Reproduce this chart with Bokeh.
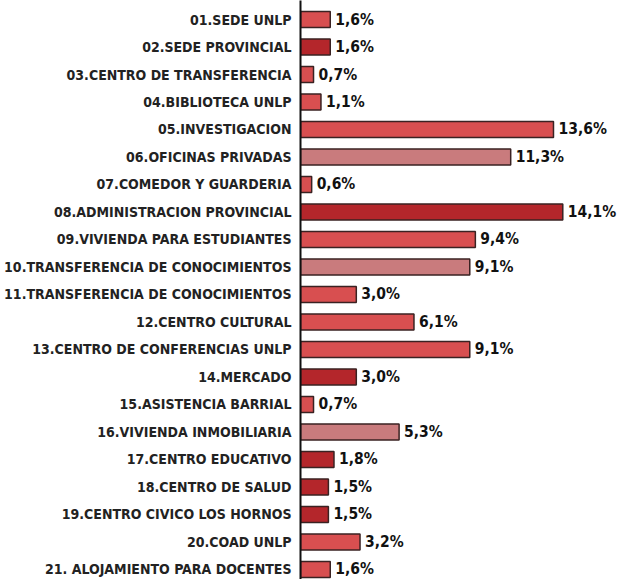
from bokeh.plotting import figure
from bokeh.models import Range1d, FixedTicker, ColumnDataSource
from bokeh.core.properties import value
from bokeh.embed import file_html
from bokeh.resources import INLINE

categories = [
    "01.SEDE UNLP", "02.SEDE PROVINCIAL", "03.CENTRO DE TRANSFERENCIA",
    "04.BIBLIOTECA UNLP", "05.INVESTIGACION", "06.OFICINAS PRIVADAS",
    "07.COMEDOR Y GUARDERIA", "08.ADMINISTRACION PROVINCIAL",
    "09.VIVIENDA PARA ESTUDIANTES", "10.TRANSFERENCIA DE CONOCIMIENTOS",
    "11.TRANSFERENCIA DE CONOCIMIENTOS", "12.CENTRO CULTURAL",
    "13.CENTRO DE CONFERENCIAS UNLP", "14.MERCADO", "15.ASISTENCIA BARRIAL",
    "16.VIVIENDA INMOBILIARIA", "17.CENTRO EDUCATIVO", "18.CENTRO DE SALUD",
    "19.CENTRO CIVICO LOS HORNOS", "20.COAD UNLP", "21. ALOJAMIENTO PARA DOCENTES",
]
values = [1.6, 1.6, 0.7, 1.1, 13.6, 11.3, 0.6, 14.1, 9.4, 9.1, 3.0, 6.1,
          9.1, 3.0, 0.7, 5.3, 1.8, 1.5, 1.5, 3.2, 1.6]
MED, DARK, PINK = "#d84f50", "#b4262b", "#c97b7d"
colors = [MED, DARK, MED, MED, MED, PINK, MED, DARK, MED, PINK, MED, MED,
          MED, DARK, MED, PINK, DARK, DARK, DARK, MED, MED]

n = len(categories)
ypos = [n - 1 - i for i in range(n)]
labels = [("%.1f%%" % v).replace(".", ",") for v in values]

src = ColumnDataSource(dict(y=ypos, v=values, c=colors, t=labels))

FONT = "DejaVu Sans Condensed"

p = figure(width=622, height=579, output_backend="svg", toolbar_location=None,
           x_range=Range1d(0, 17.31), y_range=Range1d(-0.364, 20.691),
           min_border_left=300, min_border_right=0, min_border_top=0,
           min_border_bottom=0)
p.hbar(y="y", right="v", left=0, height=0.58, fill_color="c",
       line_color="#3a2222", line_width=1.5, source=src)
p.text(x="v", y="y", text="t", x_offset=5, text_baseline="middle",
       text_align="left", text_font=value(FONT), text_font_style="bold",
       text_font_size="15.5px", text_color="#111111", source=src)

p.xaxis.visible = False
p.xgrid.visible = False
p.ygrid.visible = False
p.outline_line_color = None
yax = p.yaxis[0]
yax.ticker = FixedTicker(ticks=ypos)
yax.major_label_overrides = {y: c for y, c in zip(ypos, categories)}
yax.major_tick_line_color = None
yax.minor_tick_line_color = None
yax.axis_line_color = "#111111"
yax.axis_line_width = 2
yax.major_label_standoff = 3
yax.major_label_text_font = FONT
yax.major_label_text_font_style = "bold"
yax.major_label_text_font_size = "14px"
yax.major_label_text_color = "#222222"

open("out.html", "w").write(file_html(p, INLINE))
